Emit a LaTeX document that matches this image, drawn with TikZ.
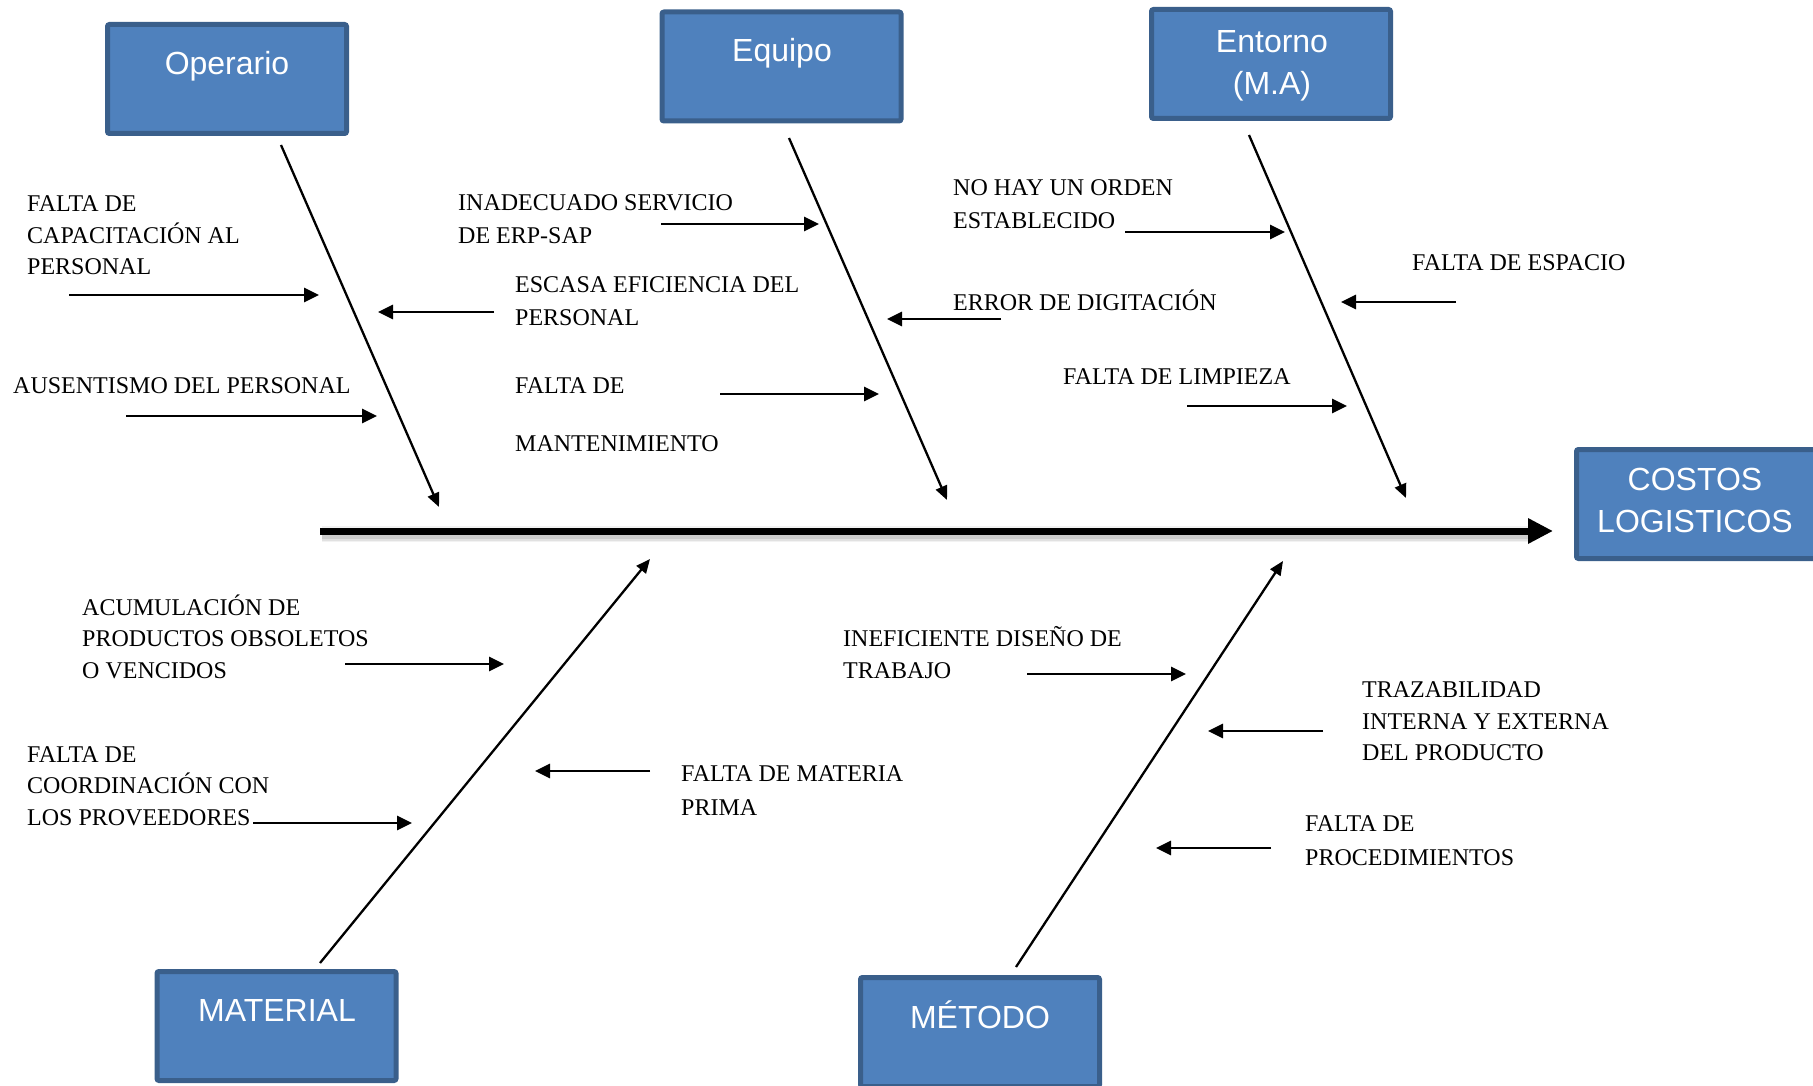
\documentclass[tikz,border=0pt]{standalone}
\usepackage{fontspec}
\setmainfont{Liberation Serif}
\newfontfamily\boxfont{Liberation Sans}
\usetikzlibrary{arrows.meta}

\definecolor{boxfill}{HTML}{4F81BD}
\definecolor{boxedge}{HTML}{3A5F8B}

\tikzset{
  catbox/.style={draw=boxedge, fill=boxfill, line width=5pt, rounded corners=2pt,
    minimum width=239pt, minimum height=109pt, inner sep=0pt},
  boxtext/.style={text=white, font=\boxfont\fontsize{32}{42}\selectfont, align=center, inner sep=0pt},
  causetext/.style={font=\fontsize{24}{31.5}\selectfont, align=left, anchor=west, inner sep=0pt},
  spine/.style={line width=7pt, -{Triangle[length=25pt,width=24pt]}},
  bone/.style={line width=2.3pt, -{Triangle[length=14pt,width=12pt]}},
  cause/.style={line width=2.8pt, -{Triangle[length=15pt,width=14pt]}},
}

\begin{document}
\begin{tikzpicture}[x=1pt, y=-1pt]
\useasboundingbox (0,0) rectangle (1813,1086);

% category boxes
\node[catbox] (op)  at (227,79)    {};
\node[catbox] (eq)  at (781.5,66.5) {};
\node[catbox] (ent) at (1271,64)   {};
\node[catbox] (mat) at (276.5,1026) {};
\node[catbox] (met) at (980,1032)  {};
\node[catbox] (res) at (1696,504)  {};

\node[boxtext] (opt)  at (227,66.5) {Operario};
\node[boxtext] (eqt)  at (782,53.5) {Equipo};
\node[boxtext] (entt) at (1272,65.5) {Entorno\\(M.A)};
\node[boxtext] (matt) at (277,1010) {MATERIAL};
\node[boxtext] (mett) at (980,1015) {MÉTODO};
\node[boxtext] (rest) at (1695,500.5) {COSTOS\\LOGISTICOS};

% spine with a soft shadow
\coordinate (sp0) at (320,531);
\coordinate (sp1) at (1553,531);
\foreach \w/\o in {16/0.05, 13/0.07, 10/0.09}
  \draw[line width=\w pt, black, opacity=\o] (322,534) -- (1530,534);
\draw[spine] (sp0) -- (sp1);

% main bones
\coordinate (b1a) at (281,145);  \coordinate (b1b) at (439,507);
\coordinate (b2a) at (789,138);  \coordinate (b2b) at (947,500);
\coordinate (b3a) at (1249,135); \coordinate (b3b) at (1406,498);
\coordinate (b4a) at (320,963);  \coordinate (b4b) at (650,559);
\coordinate (b5a) at (1016,967); \coordinate (b5b) at (1283,561);
\draw[bone] (b1a) -- (b1b);
\draw[bone] (b2a) -- (b2b);
\draw[bone] (b3a) -- (b3b);
\draw[bone] (b4a) -- (b4b);
\draw[bone] (b5a) -- (b5b);

% causes: Operario
\node[causetext] (c1)  at (27,235.5)  {FALTA DE\\CAPACITACIÓN AL\\PERSONAL};
\node[causetext] (c2)  at (13,386)    {AUSENTISMO DEL PERSONAL};
\node[causetext] (c3)  at (515,301.5) {ESCASA EFICIENCIA DEL\\[1.5pt]PERSONAL};
\draw[cause] (69,295) coordinate (a1s) -- (319,295) coordinate (a1e);
\draw[cause] (126,416) coordinate (a2s) -- (377,416) coordinate (a2e);
\draw[cause] (494,312) coordinate (a3s) -- (378,312) coordinate (a3e);

% causes: Equipo
\node[causetext] (c4)  at (458,219.5) {INADECUADO SERVICIO\\[1.5pt]DE ERP-SAP};
\node[causetext] (c5)  at (515,415)   {FALTA DE\\[26.5pt]MANTENIMIENTO};
\node[causetext] (c6)  at (953,300.5) {ERROR DE DIGITACIÓN};
\draw[cause] (661,224) coordinate (a4s) -- (819,224) coordinate (a4e);
\draw[cause] (720,394) coordinate (a5s) -- (879,394) coordinate (a5e);
\draw[cause] (1001,319) coordinate (a6s) -- (887,319) coordinate (a6e);

% causes: Entorno
\node[causetext] (c7)  at (953,204.5) {NO HAY UN ORDEN\\[1.5pt]ESTABLECIDO};
\node[causetext] (c8)  at (1412,263)  {FALTA DE ESPACIO};
\node[causetext] (c9)  at (1063,377)  {FALTA DE LIMPIEZA};
\draw[cause] (1125,232) coordinate (a7s) -- (1285,232) coordinate (a7e);
\draw[cause] (1456,302) coordinate (a8s) -- (1341,302) coordinate (a8e);
\draw[cause] (1187,406) coordinate (a9s) -- (1347,406) coordinate (a9e);

% causes: Material
\node[causetext] (c10) at (82,636.5)  {ACUMULACIÓN DE\\PRODUCTOS OBSOLETOS\\O VENCIDOS};
\node[causetext] (c11) at (27,786)    {FALTA DE\\COORDINACIÓN CON\\LOS PROVEEDORES};
\node[causetext] (c12) at (681,790.5) {FALTA DE MATERIA\\[2.5pt]PRIMA};
\draw[cause] (345,664) coordinate (a10s) -- (504,664) coordinate (a10e);
\draw[cause] (253,823) coordinate (a11s) -- (412,823) coordinate (a11e);
\draw[cause] (650,771) coordinate (a12s) -- (535,771) coordinate (a12e);

% causes: Método
\node[causetext] (c13) at (843,652.5) {INEFICIENTE DISEÑO DE\\TRABAJO};
\node[causetext] (c14) at (1362,721.5){TRAZABILIDAD\\INTERNA Y EXTERNA\\DEL PRODUCTO};
\node[causetext] (c15) at (1305,841)  {FALTA DE\\[2.5pt]PROCEDIMIENTOS};
\draw[cause] (1027,674) coordinate (a13s) -- (1186,674) coordinate (a13e);
\draw[cause] (1323,731) coordinate (a14s) -- (1208,731) coordinate (a14e);
\draw[cause] (1271,848) coordinate (a15s) -- (1156,848) coordinate (a15e);
\end{tikzpicture}
\end{document}
